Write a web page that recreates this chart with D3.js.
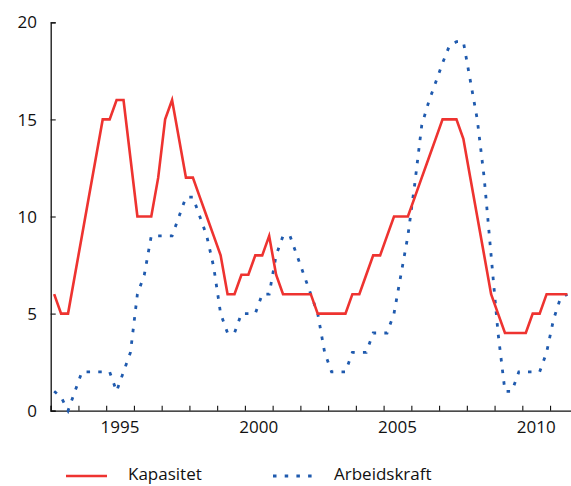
<!DOCTYPE html>
<html>
<head>
<meta charset="utf-8">
<script src="https://cdn.jsdelivr.net/npm/d3@7"></script>
<style>
  html, body { margin: 0; padding: 0; background: #fff; }
  svg { display: block; }
  text { font-family: "Open Sans", "Noto Sans", sans-serif; fill: #111; }
</style>
</head>
<body>
<div id="chart"></div>
<script>
// Quarterly data, 1993Q1 - 2011Q3
const startYear = 1993;
const kapasitet = [6,5,5,7,9,11,13,15,15,16,16,13,10,10,10,12,15,16,14,12,
  12,11,10,9,8,6,6,7,7,8,8,9,7,6,6,6,6,6,5,5,
  5,5,5,6,6,7,8,8,9,10,10,10,11,12,13,14,15,15,15,14,
  12,10,8,6,5,4,4,4,4,5,5,6,6,6,6];
const arbeidskraft = [1,0.7,0,1,2,2,2,2,2,1,2,3,6,7,9,9,9,9,10,11,
  11,10,9,7.4,5,4,4,5,5,5,6,6,8,9,9,8,7,6,5,3,
  2,2,2,3,3,3,4,4,4,5,7,9,11.7,14.7,15.9,16.9,17.9,18.8,19,19,
  17,15,12,8,4,1,1,2,2,2,2,3,4.7,5.8,6];
const seriesNames = ["Kapasitet", "Arbeidskraft"];
const yTicks = [0, 5, 10, 15, 20];
const xLabelYears = [1995, 2000, 2005, 2010];

const W = 571, H = 486;
const svg = d3.select("#chart").append("svg").attr("width", W).attr("height", H);

const x = d3.scaleLinear().domain([1993, 2012]).range([50.7, 577.8]);
const y = d3.scaleLinear().domain([0, 20]).range([410.7, 22.3]);

const tq = i => startYear + Math.floor(i / 4) + ((i % 4) + 0.5) / 4;

// axes
const years = d3.range(1993, 2013);
const xAxis = svg.append("g").attr("transform", `translate(0,${y(0)})`)
  .call(d3.axisBottom(x).tickValues(years).tickSize(-5).tickFormat(""));
xAxis.select(".domain").attr("stroke", "#111").attr("stroke-width", 1.3);
xAxis.selectAll(".tick line").attr("stroke", "#111").attr("stroke-width", 1.1);

const yAxis = svg.append("g").attr("transform", `translate(${x(1993)},0)`)
  .call(d3.axisLeft(y).tickValues(yTicks).tickSize(-5).tickFormat(""));
yAxis.select(".domain").attr("stroke", "#111").attr("stroke-width", 1.3);
yAxis.selectAll(".tick line").attr("stroke", "#111").attr("stroke-width", 1.1);

svg.append("g").selectAll("text").data(yTicks).join("text")
  .attr("x", 37).attr("y", d => y(d)).attr("dy", "0.36em")
  .attr("text-anchor", "end").attr("font-size", 17).text(d => d);

svg.append("g").selectAll("text").data(xLabelYears).join("text")
  .attr("x", d => x(d + 0.5)).attr("y", 433)
  .attr("text-anchor", "middle").attr("font-size", 17).text(d => d);

// lines
const line = d3.line().x((d, i) => x(tq(i))).y(d => y(d));
svg.append("path").datum(arbeidskraft).attr("d", line)
  .attr("fill", "none").attr("stroke", "#1f5aae").attr("stroke-width", 2.8)
  .attr("stroke-dasharray", "3.5,8.2");
svg.append("path").datum(kapasitet).attr("d", line)
  .attr("fill", "none").attr("stroke", "#ee3330").attr("stroke-width", 2.6)
  .attr("stroke-linejoin", "miter");

// legend
const lg = svg.append("g");
lg.append("line").attr("x1", 66).attr("x2", 107).attr("y1", 476).attr("y2", 476)
  .attr("stroke", "#ee3330").attr("stroke-width", 2.6);
lg.append("text").attr("x", 128).attr("y", 480).attr("font-size", 17).text(seriesNames[0]);
lg.append("line").attr("x1", 273).attr("x2", 312).attr("y1", 476).attr("y2", 476)
  .attr("stroke", "#1f5aae").attr("stroke-width", 2.8).attr("stroke-dasharray", "3.5,8.2");
lg.append("text").attr("x", 334).attr("y", 480).attr("font-size", 17).text(seriesNames[1]);
</script>
</body>
</html>
